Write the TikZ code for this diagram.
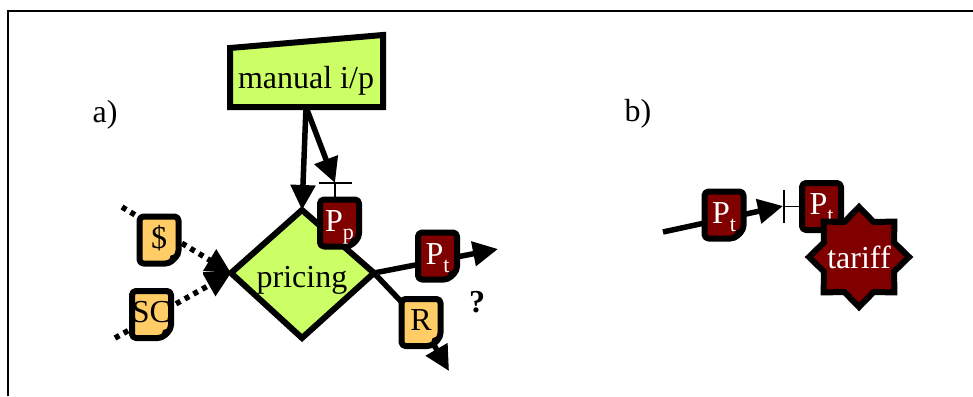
\documentclass[tikz,border=0pt]{standalone}
\usepackage{fontspec}
\setmainfont{Liberation Serif}
\usetikzlibrary{arrows.meta,calc}
\pgfdeclarelayer{lines}
\pgfdeclarelayer{boxes}
\pgfsetlayers{lines,boxes,main}
\definecolor{lgreen}{HTML}{CCFF66}
\definecolor{lorange}{HTML}{FFCC66}
\definecolor{dred}{HTML}{800000}
\tikzset{
  big/.style={font=\fontsize{32}{36}\selectfont},
  docnode/.style={minimum width=39pt, minimum height=47pt, inner sep=0pt, outer sep=0pt},
  docline/.style={line width=6pt, rounded corners=4pt, line join=round},
  shapeline/.style={line width=6pt, line join=miter},
  conn/.style={line width=5.5pt},
  tipped/.style={-{Triangle[length=25pt,width=24pt]}},
  dots/.style={line width=5.5pt, dash pattern=on 5pt off 5pt},
  hair/.style={line width=1.5pt},
}
\newcommand\docbox[5]{%
  \node[docnode] (#1) at (#2) {};
  \filldraw[docline, fill=#3] (#1.north west) -- (#1.north east) -- ([yshift=9pt]#1.south east) -- ([xshift=-9pt]#1.south east) -- (#1.south west) -- cycle;
  \fill ([xshift=-9pt]#1.south east) .. controls ([xshift=-9pt,yshift=9pt]#1.south east) .. ([yshift=9pt]#1.south east) -- cycle;
  \node[big, text=#4, anchor=base, inner sep=0pt] (#1-t) at ([yshift=-8pt]#1.center) {#5};
}
\newcommand\subs[1]{\raisebox{-8pt}{\fontsize{22}{22}\selectfont #1}}
\begin{document}
\begin{tikzpicture}[x=1pt,y=-1pt]
\useasboundingbox (0,0) rectangle (973,396);
% frame
\draw[line width=2pt, line join=miter] (8,396) -- (8,11) -- (973,11);

\begin{pgfonlayer}{boxes}
% labels
\node[big] (la) at (105,115) {a)};
\node[big] (lb) at (638,114) {b)};
% manual input
\filldraw[shapeline, fill=lgreen] (230,48) -- (383,35) -- (383,107) -- (230,107) -- cycle;
\node[big] (manual) at (306,81) {manual i/p};
\coordinate (mb) at (306,107);
% pricing diamond
\coordinate (pl) at (231,273);
\coordinate (pr) at (374,273);
\coordinate (ptop) at (302,210);
\coordinate (pbot) at (302,338);
\filldraw[shapeline, fill=lgreen] (pl) -- (ptop) -- (pr) -- (pbot) -- cycle;
\node[big] (pricing) at (302,280) {pricing};
% documents
\docbox{dollar}{159,240}{lorange}{black}{\$}
\docbox{SC}{151.5,314.5}{lorange}{black}{SC}
\docbox{Pp}{339.5,223}{dred}{white}{P\subs{p}}
\docbox{Pt}{437.5,256}{dred}{white}{P\subs{t}}
\docbox{R}{421,322.5}{lorange}{black}{R}
\docbox{Pta}{724,215}{dred}{white}{P\subs{t}}
\docbox{Ptb}{821.5,206.5}{dred}{white}{P\subs{t}}
% tariff star
\coordinate (sc) at (859,257);
\filldraw[shapeline, fill=dred] ([shift={(0:50)}]sc)
  \foreach \a in {0,45,...,315}{ -- ([shift={(\a:50)}]sc) -- ([shift={(\a+22.5:38)}]sc) } -- cycle;
\node[big, text=white] (tariff) at (sc) {tariff};
\node[font=\bfseries\fontsize{32}{36}\selectfont] (q) at (477,302) {?};
\end{pgfonlayer}

\begin{pgfonlayer}{lines}
% manual i/p to pricing and Pp
\draw[conn, tipped] (mb) -- (ptop);
\coordinate (barc) at (335,183);
\draw[conn, tipped] (mb) -- (barc);
\draw[hair] ([xshift=-16pt]barc) -- ([xshift=17pt]barc);
\draw[hair] (barc) -- (barc |- Pp.north);
% dotted inputs
\coordinate (d1) at (122,207);
\coordinate (d2) at (115,338);
\draw[dots, tipped] (d1) -- (pl);
\draw[dots, tipped] (d2) -- (pl);
\draw[hair] ([xshift=-28pt]pl) -- (pl);
% outputs
\coordinate (e1) at (498,249);
\coordinate (e2) at (449,371);
\draw[conn, tipped] (pr) -- (e1);
\draw[conn, tipped] (pr) -- (R.center) -- (e2);
% b)
\coordinate (s1) at (663,232);
\coordinate (e3) at (783,206);
\draw[conn, tipped] (s1) -- (e3);
\draw[hair] (784,190) -- (784,223);
\draw[hair] (784,206.5) -- (Ptb.west);
\end{pgfonlayer}
\end{tikzpicture}
\end{document}
